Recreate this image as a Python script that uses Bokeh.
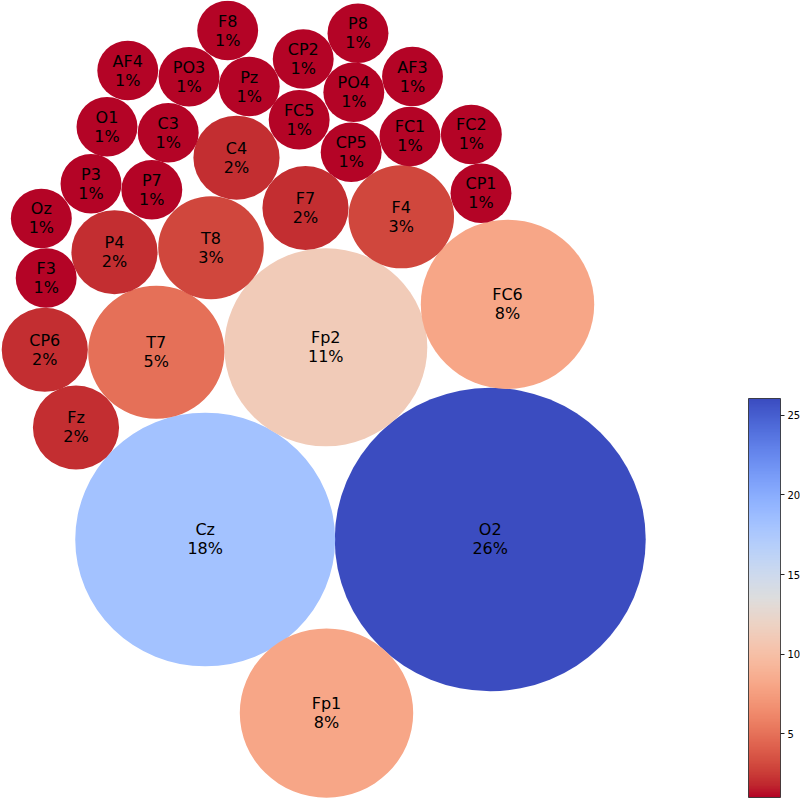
import numpy as np
from bokeh.plotting import figure
from bokeh.models import ColumnDataSource, LinearColorMapper, ColorBar, FixedTicker, Range1d
from bokeh.embed import file_html
from bokeh.resources import INLINE
from bokeh.core.properties import value

# ---- data ----
electrodes = ["O2", "Cz", "Fp2", "FC6", "Fp1", "T7", "F4", "T8", "F7", "C4", "P4", "CP6", "Fz",
              "F8", "P8", "AF4", "PO3", "CP2", "Pz", "AF3", "PO4", "O1", "C3", "FC5", "FC1",
              "FC2", "CP5", "P3", "P7", "CP1", "Oz", "F3"]
importance = [26.05, 18.2, 11.1, 8.1, 8.1, 5.0, 3.0, 3.0, 2.0, 2.0, 2.0, 2.0, 2.0,
               1.0, 1.0, 1.0, 1.0, 1.0, 1.0, 1.0, 1.0, 1.0, 1.0, 1.0, 1.0,
               1.0, 1.0, 1.0, 1.0, 1.0, 1.0, 1.0]
# packed-bubble layout positions (bubble units, radius = sqrt(value/pi))
bubble_x = [9.069, 3.791, 6.024, 9.389, 6.037, 2.885, 7.422, 3.898, 5.648, 4.370, 2.111, 0.820, 1.398,
            4.207, 6.620, 2.357, 3.491, 5.606, 4.606, 7.630, 6.543, 1.972, 3.106, 5.531, 7.583,
            8.719, 6.494, 1.676, 2.802, 8.898, 0.756, 0.846]
bubble_y = [4.915, 4.915, 8.562, 9.378, 1.622, 8.467, 11.038, 10.452, 11.205, 12.159, 10.366, 8.514, 7.040,
            14.573, 14.522, 13.814, 13.695, 14.032, 13.510, 13.700, 13.402, 12.746, 12.634, 12.879, 12.562,
            12.600, 12.264, 11.664, 11.550, 11.486, 11.006, 9.877]
colorbar_ticks = [5, 10, 15, 20, 25]

# ---- coolwarm colormap (reversed: low = red, high = blue) ----
coolwarm_stops = [
    (59, 76, 192), (68, 90, 204), (77, 104, 215), (87, 117, 225), (98, 130, 234),
    (108, 142, 241), (119, 154, 247), (130, 165, 251), (141, 176, 254), (152, 185, 255),
    (163, 194, 255), (174, 201, 253), (184, 208, 249), (194, 213, 244), (204, 217, 238),
    (213, 219, 230), (221, 221, 221), (229, 216, 209), (236, 211, 197), (241, 204, 185),
    (245, 196, 173), (247, 187, 160), (247, 177, 148), (247, 166, 135), (244, 154, 123),
    (241, 141, 111), (236, 127, 99), (229, 112, 88), (222, 96, 77), (213, 80, 66),
    (203, 62, 56), (192, 40, 47), (180, 4, 38)]
stops = np.array(coolwarm_stops, dtype=float)
pos = np.linspace(0, 1, len(stops))
t = np.linspace(0, 1, 256)
rgb = np.stack([np.interp(t, pos, stops[:, k]) for k in range(3)], axis=1)
coolwarm = ["#%02x%02x%02x" % tuple(int(round(c)) for c in row) for row in rgb]
palette = coolwarm[::-1]

vals = np.array(importance)
diam = 2 * np.sqrt(vals / np.pi)
labels = [f"{n}\n{v:.0f}%" for n, v in zip(electrodes, importance)]

src = ColumnDataSource(dict(x=bubble_x, y=bubble_y, d=diam, v=importance, label=labels))
mapper = LinearColorMapper(palette=palette, low=min(importance), high=max(importance))

# view (layout scale ~54 px/unit horizontally, ~52.7 px/unit vertically)
SX, SY = 54.0, 52.7
W, H = 800, 798
p = figure(width=W, height=H, output_backend="svg", toolbar_location=None,
           x_range=Range1d(0, W / SX), y_range=Range1d(0, H / SY),
           x_axis_location=None, y_axis_location=None, min_border=0,
           outline_line_color=None, background_fill_color="white", border_fill_color="white")
p.grid.visible = False

p.ellipse(x="x", y="y", width="d", height="d", source=src,
          fill_color={"field": "v", "transform": mapper}, line_color=None)
p.text(x="x", y="y", text="label", source=src, text_align="center", text_baseline="middle",
       text_font=value("DejaVu Sans"), text_font_size="16px", text_color="black",
       text_line_height=1.0)

cb = ColorBar(color_mapper=mapper, ticker=FixedTicker(ticks=colorbar_ticks),
              orientation="vertical", width=32, height=399, location=(748, 1),
              padding=0, bar_line_color="#222222", bar_line_width=0.8,
              major_tick_line_color="#222222", major_tick_in=0, major_tick_out=4,
              minor_tick_line_color=None,
              major_label_text_font="DejaVu Sans", major_label_text_font_size="10px",
              major_label_text_color="black", label_standoff=3,
              background_fill_alpha=0, border_line_color=None)
p.add_layout(cb, "center")

open("out.html", "w").write(file_html(p, INLINE))
